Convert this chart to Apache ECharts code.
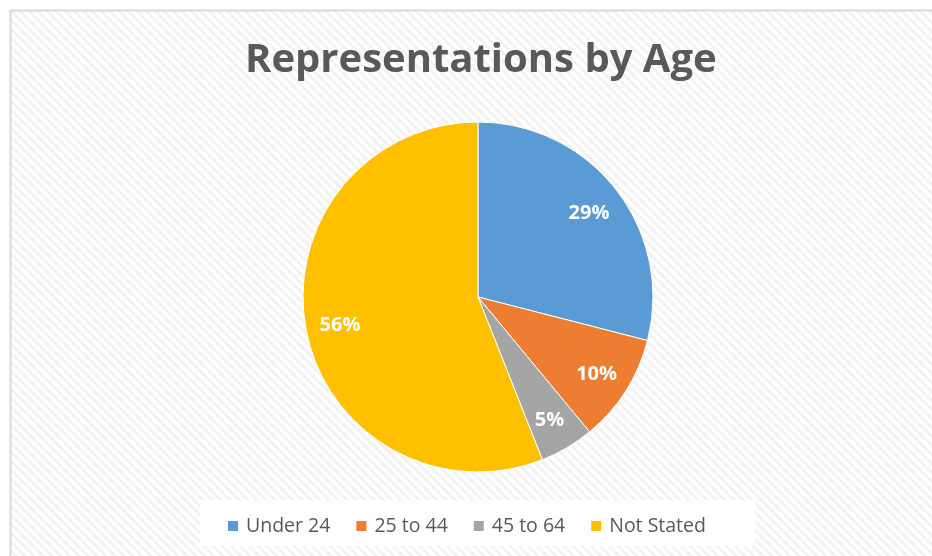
<!DOCTYPE html>
<html><head><meta charset="utf-8">
<script src="https://cdn.jsdelivr.net/npm/echarts@6/dist/echarts.min.js"></script>
<style>html,body{margin:0;padding:0;background:#fff}#c{width:932px;height:556px}</style>
</head><body><div id="c"></div>
<script>
const categories = ['Under 24', '25 to 44', '45 to 64', 'Not Stated'];
const values = [29, 10, 5, 56];
const colors = ['#5B9BD5', '#ED7D31', '#A5A5A5', '#FFC000'];
const titleText = 'Representations by Age';

// diagonal stripe pattern
const pc = document.createElement('canvas');
pc.width = 9; pc.height = 9;
const ctx = pc.getContext('2d');
ctx.fillStyle = '#ffffff'; ctx.fillRect(0,0,9,9);
ctx.strokeStyle = '#f2f2f2'; ctx.lineWidth = 3;
for (let k = -1; k <= 1; k++) {
  ctx.beginPath(); ctx.moveTo(k*9, 0); ctx.lineTo(k*9 + 9, 9); ctx.stroke();
}

const chart = echarts.init(document.getElementById('c'), null, {renderer: 'canvas'});
const data = categories.map((n, i) => ({name: n, value: values[i]}));
chart.setOption({
  animation: false,
  color: colors,
  graphic: [
    {type: 'rect', z: -10, shape: {x: 10.5, y: 10.5, width: 940, height: 560},
     style: {fill: {image: pc, repeat: 'repeat'}, stroke: '#d9d9d9', lineWidth: 2}},
    {type: 'rect', z: -5, shape: {x: 200, y: 500, width: 555, height: 46},
     style: {fill: '#ffffff', stroke: null}}
  ],
  title: {
    text: titleText, left: 245, top: 41, padding: 0,
    textStyle: {fontFamily: 'Open Sans', fontWeight: 'bold', fontSize: 40, color: '#595959'}
  },
  legend: {
    data: categories, left: 221, top: 511, itemWidth: 12, itemHeight: 12, itemGap: 24,
    icon: 'rect',
    textStyle: {fontFamily: 'Open Sans', fontSize: 19.5, color: '#595959', padding: [0,0,0,2]}
  },
  series: [
    {
      type: 'pie', center: [478, 297], radius: 175, startAngle: 90, clockwise: true,
      data: data, label: {show: false}, labelLine: {show: false},
      itemStyle: {borderColor: '#ffffff', borderWidth: 1}
    },
    {
      type: 'pie', center: [478, 299], radius: [100, 175], startAngle: 90, clockwise: true,
      silent: true, data: data,
      itemStyle: {color: 'rgba(0,0,0,0)'},
      label: {show: true, position: 'inside', formatter: '{c}%', color: '#ffffff',
        fontFamily: 'Open Sans', fontWeight: 'bold', fontSize: 20},
      labelLine: {show: false}
    }
  ]
});
</script></body></html>
